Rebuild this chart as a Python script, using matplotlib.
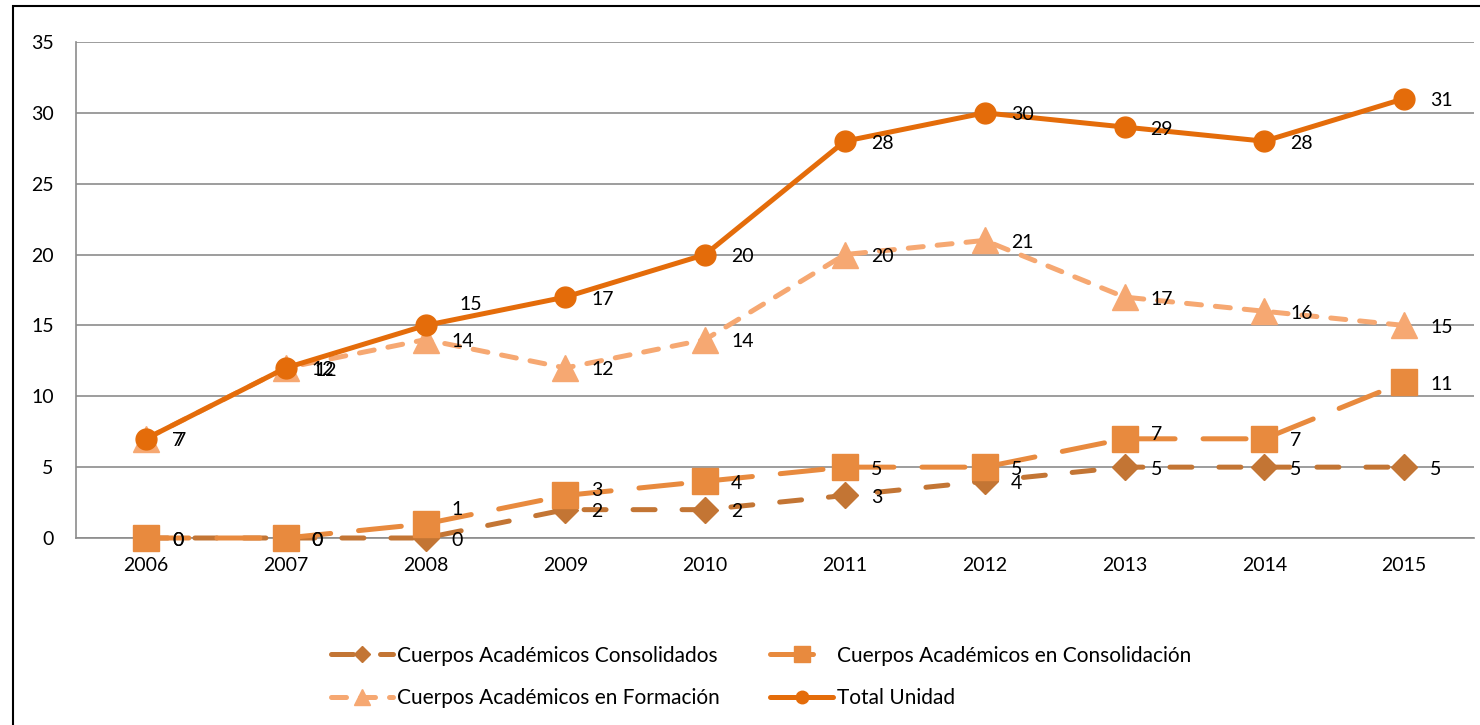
import matplotlib
matplotlib.use("Agg")
import matplotlib.pyplot as plt
from matplotlib.patches import Rectangle

plt.rcParams['font.family'] = ['Lato', 'DejaVu Sans']

years = ['2006', '2007', '2008', '2009', '2010', '2011', '2012', '2013', '2014', '2015']
consolidados = [0, 0, 0, 2, 2, 3, 4, 5, 5, 5]
consolidacion = [0, 0, 1, 3, 4, 5, 5, 7, 7, 11]
formacion = [7, 12, 14, 12, 14, 20, 21, 17, 16, 15]
total = [7, 12, 15, 17, 20, 28, 30, 29, 28, 31]

names = ['Cuerpos Académicos Consolidados', 'Cuerpos Académicos en Consolidación',
         'Cuerpos Académicos en Formación', 'Total Unidad']

W, H = 1480, 725
fig = plt.figure(figsize=(W / 100, H / 100), dpi=100)
ax = fig.add_axes([76 / W, 1 - 538 / H, 1398 / W, 496 / H])

x = list(range(len(years)))
styles = [
    dict(data=consolidados, color='#C37534', marker='D', ms=13, dashes=(4.4, 5.4)),
    dict(data=consolidacion, color='#E88A3E', marker='s', ms=19, dashes=(8.6, 5.6)),
    dict(data=formacion, color='#F6A872', marker='^', ms=19, dashes=(3.0, 2.8)),
    dict(data=total, color='#E46C0A', marker='o', ms=15, dashes=None),
]
# label offsets in pixels (negative dy = up) for specific points
label_dy = {
    (3, 2): -23, (1, 2): -16, (1, 3): -7, (1, 7): -6, (2, 1): 1,
}
label_dx = {(3, 2): 8, (2, 1): 3, (2, 0): 3}

lines = []
for i, st in enumerate(styles):
    ln, = ax.plot(x, st['data'], color=st['color'], lw=3.6, marker=st['marker'],
                  ms=st['ms'], mec=st['color'], mfc=st['color'], clip_on=False,
                  zorder=3 + i, solid_capstyle='round', dash_capstyle='round',
                  label=names[i])
    if st['dashes'] is not None:
        ln.set_dashes(st['dashes'])
    lines.append(ln)
    for j, v in enumerate(st['data']):
        dy = label_dy.get((i, j), 0)
        dx = label_dx.get((i, j), 0)
        ax.annotate(str(v), (j, v), xytext=(26 + dx, -dy - 2), textcoords='offset pixels',
                    ha='left', va='center', fontsize=14, color='black', zorder=10,
                    annotation_clip=False)

ax.set_xlim(-0.5, len(years) - 0.5)
ax.set_ylim(0, 35)
ax.set_yticks(range(0, 36, 5))
ax.set_xticks(x)
ax.set_xticklabels(years)
ax.tick_params(axis='both', length=0, labelsize=14)
ax.tick_params(axis='y', pad=16)
ax.tick_params(axis='x', pad=14)
ax.grid(axis='y', color='#8c8c8c', lw=1.2, zorder=0)
ax.set_axisbelow(True)
for s in ['top', 'right']:
    ax.spines[s].set_visible(False)
for s in ['left', 'bottom']:
    ax.spines[s].set_color('#8c8c8c')
    ax.spines[s].set_linewidth(1.2)

order = [0, 2, 1, 3]
leg = fig.legend([lines[k] for k in order], [names[k] for k in order], ncol=2,
                 loc='center', bbox_to_anchor=(761 / W, 1 - 677 / H), frameon=False,
                 fontsize=15, handlelength=3.0, markerscale=0.6, columnspacing=2.4,
                 labelspacing=1.1, handletextpad=0.2)

fig.add_artist(Rectangle((13 / W, -0.1), 2, 1.1 - 6 / H, transform=fig.transFigure,
                         fill=False, ec='black', lw=1.5))

fig.savefig('out.png', dpi=100, facecolor='white')
